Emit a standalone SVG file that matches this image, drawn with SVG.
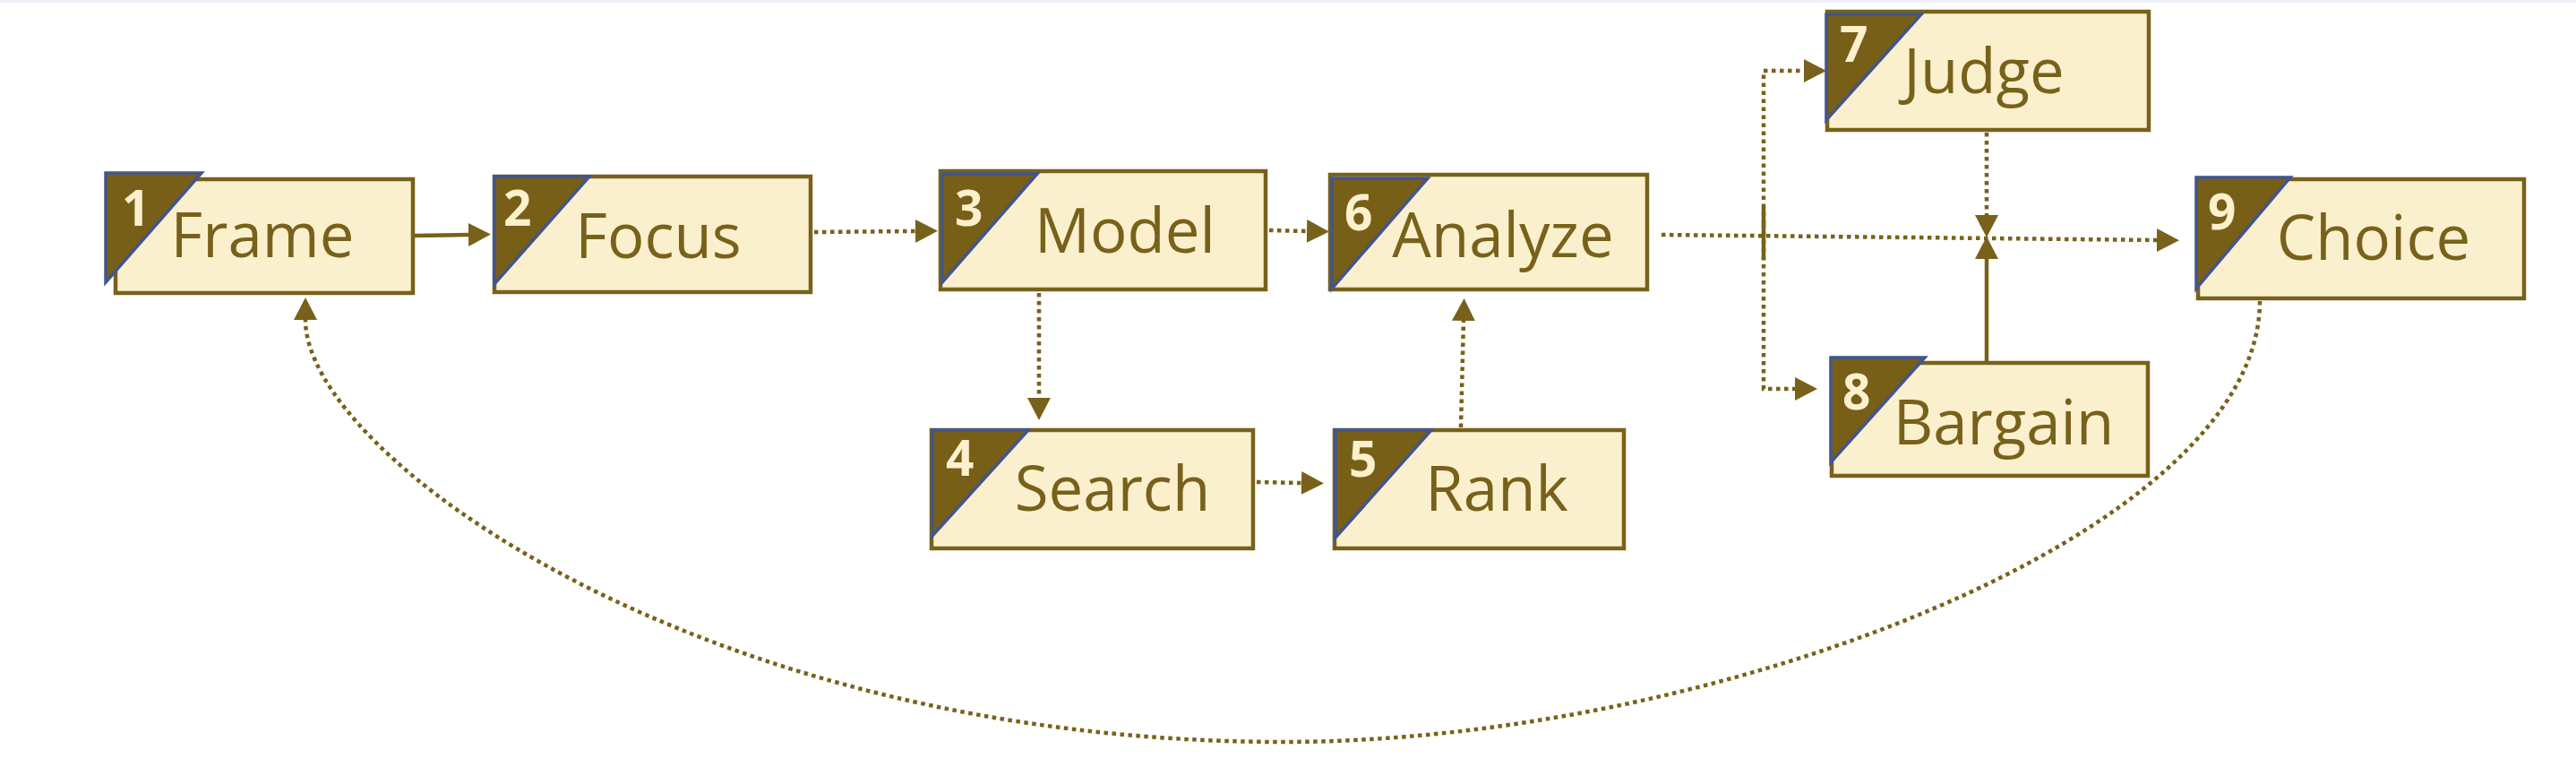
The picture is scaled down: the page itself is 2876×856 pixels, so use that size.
<svg xmlns="http://www.w3.org/2000/svg" width="2876" height="856" viewBox="0 0 2876 856">
<style>
.box{fill:#FBF0CE;stroke:#78611A;stroke-width:4.5}
.tri{fill:#775F17;stroke:#42558F;stroke-width:3.5;stroke-linejoin:miter}
.lbl{font-family:"Open Sans","Noto Sans",sans-serif;font-size:69px;fill:#78611A;text-anchor:middle}
.num{font-family:"Open Sans","Noto Sans",sans-serif;font-size:55px;font-weight:bold;fill:#FCF0CD}
.ln{fill:none;stroke:#78611A;stroke-width:4.5}
.dot{stroke-dasharray:4.5 4.5}
</style>
<defs>
<marker id="ah" markerUnits="userSpaceOnUse" markerWidth="26" markerHeight="28" refX="0" refY="13" orient="auto" viewBox="0 0 26 26">
<path d="M0,0 L25,13 L0,26 Z" fill="#78611A"/>
</marker>
</defs>
<rect x="0" y="0" width="2876" height="3" fill="#EEF0F8"/>
<g id="connectors">
<path class="ln" d="M463,263 L523,262" marker-end="url(#ah)"/>
<path class="ln dot" d="M909,259 L1022,258" marker-end="url(#ah)"/>
<path class="ln dot" d="M1417,257 L1459,258" marker-end="url(#ah)"/>
<path class="ln dot" d="M1160,327 L1160,444" marker-end="url(#ah)"/>
<path class="ln dot" d="M1403,538 L1453,539" marker-end="url(#ah)"/>
<path class="ln dot" d="M1631,477 L1634,358" marker-end="url(#ah)"/>
<path class="ln dot" d="M1855,262 L2408,268" marker-end="url(#ah)"/>
<path class="ln dot" d="M1969,250 L1969,79 L2014,79" marker-end="url(#ah)"/>
<path class="ln dot" d="M1969,250 L1969,434 L2004,434" marker-end="url(#ah)"/>
<path class="ln" d="M1969,232 L1969,290"/>
<path class="ln dot" d="M2218,148 L2218,240" marker-end="url(#ah)"/>
<path class="ln" d="M2218,403 L2218,289" marker-end="url(#ah)"/>
<path class="ln dot" d="M2523,336 C2523,596 1913,828 1433,828 C783,828 341,508 341,357" marker-end="url(#ah)"/>
</g>
<g id="n1">
<rect class="box" x="129" y="200" width="332" height="127"/>
<path class="tri" d="M118,193 L225,193 L118,315 Z"/>
<text class="num" x="136" y="252">1</text>
<text class="lbl" x="293" y="287">Frame</text>
</g>
<g id="n2">
<rect class="box" x="552" y="197" width="353" height="129"/>
<path class="tri" d="M552,197 L658,197 L552,317 Z"/>
<text class="num" x="562" y="252">2</text>
<text class="lbl" x="735" y="288">Focus</text>
</g>
<g id="n3">
<rect class="box" x="1050" y="191" width="363" height="132"/>
<path class="tri" d="M1052,194 L1158,194 L1052,315 Z"/>
<text class="num" x="1066" y="252">3</text>
<text class="lbl" x="1256" y="282">Model</text>
</g>
<g id="n6">
<rect class="box" x="1485" y="195" width="354" height="128"/>
<path class="tri" d="M1487,199 L1594,199 L1487,322 Z"/>
<text class="num" x="1501" y="257">6</text>
<text class="lbl" x="1678" y="287">Analyze</text>
</g>
<g id="n4">
<rect class="box" x="1040" y="480" width="359" height="132"/>
<path class="tri" d="M1041,480 L1148,480 L1041,598 Z"/>
<text class="num" x="1056" y="531">4</text>
<text class="lbl" x="1242" y="570">Search</text>
</g>
<g id="n5">
<rect class="box" x="1490" y="480" width="323" height="132"/>
<path class="tri" d="M1491,480 L1598,480 L1491,600 Z"/>
<text class="num" x="1506" y="532">5</text>
<text class="lbl" x="1671" y="570">Rank</text>
</g>
<g id="n7">
<rect class="box" x="2040" y="13" width="359" height="132"/>
<path class="tri" d="M2039,16 L2145,16 L2039,134 Z"/>
<text class="num" x="2054" y="69">7</text>
<text class="lbl" x="2215" y="104">Judge</text>
</g>
<g id="n8">
<rect class="box" x="2045" y="405" width="353" height="126"/>
<path class="tri" d="M2044,399 L2149,399 L2044,516 Z"/>
<text class="num" x="2057" y="457">8</text>
<text class="lbl" x="2237" y="496">Bargain</text>
</g>
<g id="n9">
<rect class="box" x="2454" y="200" width="364" height="133"/>
<path class="tri" d="M2452,198 L2557,198 L2452,322 Z"/>
<text class="num" x="2465" y="256">9</text>
<text class="lbl" x="2650" y="290">Choice</text>
</g>
</svg>
